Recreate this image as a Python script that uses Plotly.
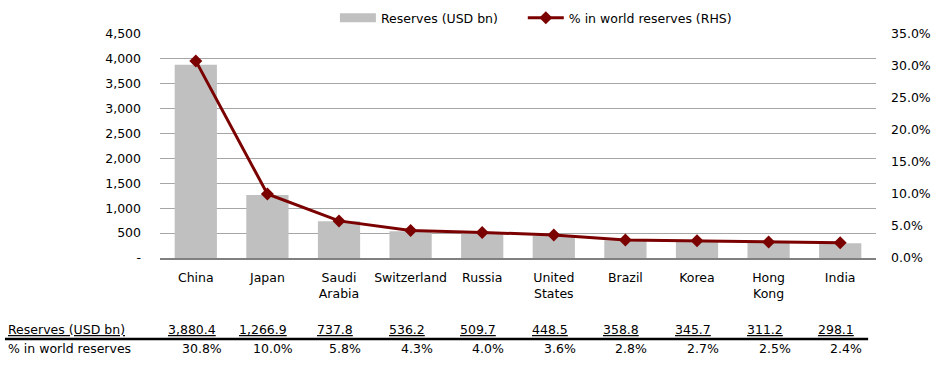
import plotly.graph_objects as go

countries = ["China", "Japan", "Saudi<br>Arabia", "Switzerland", "Russia", "United<br>States",
             "Brazil", "Korea", "Hong<br>Kong", "India"]
reserves = [3880.4, 1266.9, 737.8, 536.2, 509.7, 448.5, 358.8, 345.7, 311.2, 298.1]
share_pct = [30.8, 10.0, 5.8, 4.3, 4.0, 3.6, 2.8, 2.7, 2.5, 2.4]
left_ticks = [0, 500, 1000, 1500, 2000, 2500, 3000, 3500, 4000, 4500]
left_ticktext = ["-", "500", "1,000", "1,500", "2,000", "2,500", "3,000", "3,500", "4,000", "4,500"]
right_ticks = [0, 0.05, 0.10, 0.15, 0.20, 0.25, 0.30, 0.35]

FONT = "DejaVu Sans"
FS = 12.5
GRAY = "#C0C0C0"
RED = "#7B0000"
NB = "\u00a0"

fig = go.Figure()
fig.add_trace(go.Bar(x=countries, y=reserves, name="Reserves (USD bn)", showlegend=False,
                     marker=dict(color=GRAY, line=dict(width=0)), width=0.59))
# legend swatch for bars (wide rectangle)
fig.add_trace(go.Scatter(x=[countries[0]], y=[None], name="Reserves (USD bn)" + NB * 5, mode="lines",
                         line=dict(color=GRAY, width=9)))
fig.add_trace(go.Scatter(x=countries, y=[v / 100 for v in share_pct], name="% in world reserves (RHS)",
                         yaxis="y2", mode="lines+markers",
                         line=dict(color=RED, width=3),
                         marker=dict(symbol="diamond", size=10, color=RED)))

# table annotations
for c, r, s in zip(countries, reserves, share_pct):
    fig.add_annotation(x=c, y=-0.32, xref="x", yref="paper",
                       text=f"<span style='text-decoration:underline'>{r:,.1f}</span>",
                       showarrow=False, xshift=-4, yanchor="middle",
                       font=dict(family=FONT, size=FS, color="#000"))
    fig.add_annotation(x=c, y=-0.406, xref="x", yref="paper", text=f"{s:.1f}%",
                       showarrow=False, xshift=6, yanchor="middle",
                       font=dict(family=FONT, size=FS, color="#000"))
fig.add_annotation(x=0, y=-0.32, xref="paper", yref="paper", xanchor="left",
                   text="<span style='text-decoration:underline'>Reserves (USD bn)</span>",
                   showarrow=False, yanchor="middle", xshift=-154,
                   font=dict(family=FONT, size=FS, color="#000"))
fig.add_annotation(x=0, y=-0.406, xref="paper", yref="paper", xanchor="left",
                   text="% in world reserves", showarrow=False, yanchor="middle", xshift=-154,
                   font=dict(family=FONT, size=FS, color="#000"))

fig.add_shape(type="line", xref="paper", yref="paper", x0=-0.2165, x1=0.989, y0=-0.362, y1=-0.362,
              line=dict(color="#000", width=2.5))

fig.update_layout(
    width=933, height=365,
    margin=dict(l=160, r=57, t=34, b=107, autoexpand=False),
    paper_bgcolor="white", plot_bgcolor="white",
    font=dict(family=FONT, size=FS, color="#000"),
    showlegend=True,
    legend=dict(orientation="h", x=0.525, xanchor="center", y=1.071, yanchor="middle",
                font=dict(family=FONT, size=FS), traceorder="normal",
                itemwidth=36, bgcolor="rgba(0,0,0,0)"),
    xaxis=dict(range=[-0.5, len(countries) - 0.5], showgrid=False, showline=True,
               linecolor="#808080", linewidth=2,
               ticks="", ticklabelstandoff=7, tickfont=dict(family=FONT, size=FS), fixedrange=True),
    yaxis=dict(range=[0, 4500], tickvals=left_ticks, ticktext=left_ticktext,
               showgrid=True, gridcolor="#A6A6A6", gridwidth=1, zeroline=False,
               ticks="", ticklabelstandoff=18, tickfont=dict(family=FONT, size=FS)),
    yaxis2=dict(range=[0, 0.35], tickvals=right_ticks, tickformat=".1%",
                overlaying="y", side="right", showgrid=False, zeroline=False,
                ticks="", ticklabelstandoff=14, tickfont=dict(family=FONT, size=FS)),
)

fig.write_html("out.html", config={"displayModeBar": False},
               post_script="document.body.style.margin='0';document.body.style.padding='0';")
